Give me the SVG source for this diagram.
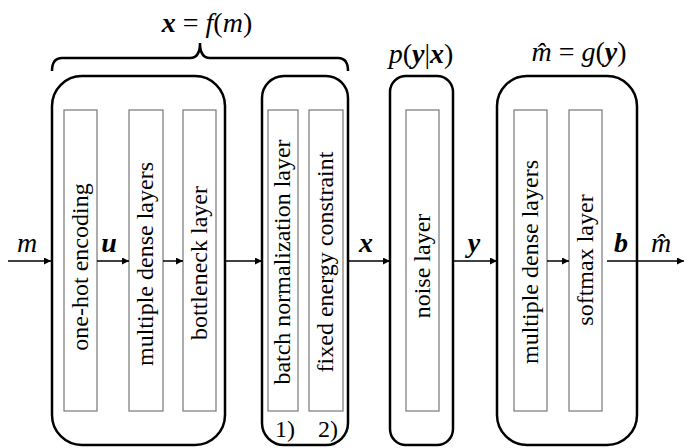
<svg xmlns="http://www.w3.org/2000/svg" width="685" height="448" viewBox="0 0 685 448">
<defs>
<marker id="ah" viewBox="0 0 10 10" refX="10" refY="5" markerWidth="7" markerHeight="7" markerUnits="userSpaceOnUse" orient="auto">
<path d="M0,0 L10,5 L0,10 z" fill="#000"/>
</marker>
</defs>
<rect width="685" height="448" fill="#fff"/>

<g id="brace">
<path d="M52,71 Q52,58 62,58 L190,58 Q200,58 200,43 Q200,58 210,58 L338,58 Q348,58 348,71" fill="none" stroke="#000" stroke-width="2.5"/>
<text font-family="Times New Roman" font-size="28" x="207" y="32" text-anchor="middle"><tspan font-weight="bold" font-style="italic">x</tspan> = <tspan font-style="italic">f</tspan>(<tspan font-style="italic">m</tspan>)</text>
</g>

<g id="encoder">
<rect fill="#fff" stroke="#000" stroke-width="2.5" x="52" y="76" width="173" height="369" rx="30"/>
<g id="onehot"><rect fill="#fff" stroke="#777" stroke-width="1.2" x="64" y="110" width="33" height="301"/>
<text font-family="Times New Roman" font-size="24" text-anchor="middle" transform="translate(88,267) rotate(-90)">one-hot encoding</text></g>
<g id="dense1"><rect fill="#fff" stroke="#777" stroke-width="1.2" x="129" y="110" width="34" height="301"/>
<text font-family="Times New Roman" font-size="24" text-anchor="middle" transform="translate(153,264) rotate(-90)">multiple dense layers</text></g>
<g id="bottleneck"><rect fill="#fff" stroke="#777" stroke-width="1.2" x="183" y="110" width="33" height="301"/>
<text font-family="Times New Roman" font-size="24" text-anchor="middle" transform="translate(207,263) rotate(-90)">bottleneck layer</text></g>
</g>

<g id="normalization">
<rect fill="#fff" stroke="#000" stroke-width="2.5" x="262" y="76" width="86" height="369" rx="22"/>
<g id="batchnorm"><rect fill="#fff" stroke="#777" stroke-width="1.2" x="268" y="110" width="30" height="301"/>
<text font-family="Times New Roman" font-size="24" text-anchor="middle" transform="translate(290,262) rotate(-90)">batch normalization layer</text></g>
<g id="energy"><rect fill="#fff" stroke="#777" stroke-width="1.2" x="309" y="110" width="34" height="301"/>
<text font-family="Times New Roman" font-size="24" text-anchor="middle" transform="translate(333,262) rotate(-90)">fixed energy constraint</text></g>
<text font-family="Times New Roman" font-size="24" text-anchor="middle" x="285" y="437">1)</text>
<text font-family="Times New Roman" font-size="24" text-anchor="middle" x="328" y="437">2)</text>
</g>

<g id="channel">
<rect fill="#fff" stroke="#000" stroke-width="2.5" x="390" y="76" width="63" height="369" rx="16"/>
<g id="noise"><rect fill="#fff" stroke="#777" stroke-width="1.2" x="406" y="110" width="33" height="301"/>
<text font-family="Times New Roman" font-size="24" text-anchor="middle" transform="translate(430,266) rotate(-90)">noise layer</text></g>
<text font-family="Times New Roman" font-size="28" x="421" y="63" text-anchor="middle"><tspan font-style="italic">p</tspan>(<tspan font-weight="bold" font-style="italic">y</tspan>|<tspan font-weight="bold" font-style="italic">x</tspan>)</text>
</g>

<g id="decoder">
<rect fill="#fff" stroke="#000" stroke-width="2.5" x="497" y="76" width="140" height="369" rx="30"/>
<g id="dense2"><rect fill="#fff" stroke="#777" stroke-width="1.2" x="514" y="110" width="33" height="301"/>
<text font-family="Times New Roman" font-size="24" text-anchor="middle" transform="translate(538,262) rotate(-90)">multiple dense layers</text></g>
<g id="softmax"><rect fill="#fff" stroke="#777" stroke-width="1.2" x="569" y="110" width="33" height="301"/>
<text font-family="Times New Roman" font-size="24" text-anchor="middle" transform="translate(593,260) rotate(-90)">softmax layer</text></g>
<text font-family="Times New Roman" font-size="28" x="579" y="61" text-anchor="middle"><tspan font-style="italic">m̂</tspan> = <tspan font-style="italic">g</tspan>(<tspan font-weight="bold" font-style="italic">y</tspan>)</text>
</g>

<g id="connectors" stroke="#000" stroke-width="1.5" marker-end="url(#ah)">
<line x1="8" y1="261" x2="51" y2="261"/>
<line x1="97" y1="261" x2="129" y2="261"/>
<line x1="163" y1="261" x2="183" y2="261"/>
<line x1="225" y1="261" x2="262" y2="261"/>
<line x1="348" y1="261" x2="390" y2="261"/>
<line x1="453" y1="261" x2="497" y2="261"/>
<line x1="547" y1="261" x2="569" y2="261"/>
<line x1="607" y1="261" x2="684" y2="261"/>
</g>

<g id="signal-labels">
<text font-family="Times New Roman" font-size="28" font-style="italic" x="27" y="252" text-anchor="middle">m</text>
<text font-family="Times New Roman" font-size="28" font-weight="bold" font-style="italic" x="109" y="252" text-anchor="middle">u</text>
<text font-family="Times New Roman" font-size="28" font-weight="bold" font-style="italic" x="366" y="252" text-anchor="middle">x</text>
<text font-family="Times New Roman" font-size="28" font-weight="bold" font-style="italic" x="474" y="252" text-anchor="middle">y</text>
<text font-family="Times New Roman" font-size="28" font-weight="bold" font-style="italic" x="621" y="252" text-anchor="middle">b</text>
<text font-family="Times New Roman" font-size="28" font-style="italic" x="661" y="252" text-anchor="middle">m̂</text>
</g>
</svg>
